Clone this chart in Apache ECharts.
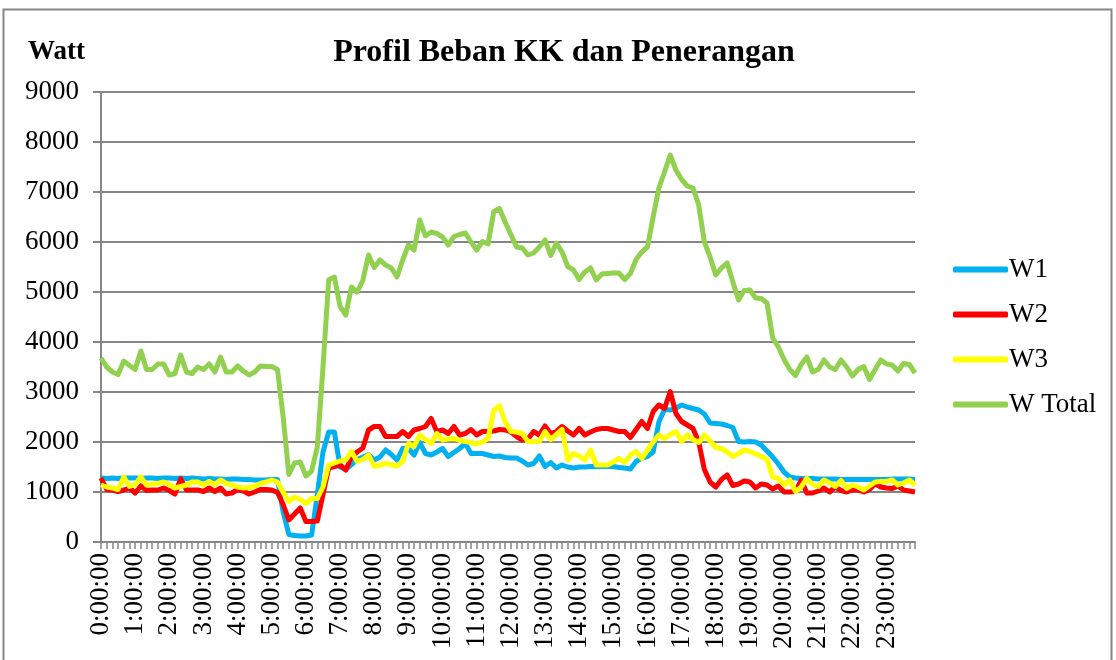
<!DOCTYPE html>
<html>
<head>
<meta charset="utf-8">
<script src="https://cdn.jsdelivr.net/npm/echarts@6/dist/echarts.min.js"></script>
<style>
  html, body { margin: 0; padding: 0; background: #fff; }
  #chart { width: 1116px; height: 660px; }
</style>
</head>
<body>
<div id="chart"></div>
<script>
// 10-minute readings over one day (144 points)
const times = [];
for (let m = 0; m < 24 * 60; m += 10) {
  const h = Math.floor(m / 60), mm = m % 60;
  times.push(h + ':' + (mm < 10 ? '0' : '') + mm + ':00');
}

const w1 = [
  1280,1270,1280,1270,1280,1280, 1280,1270,1280,1280,1270,1280,
  1280,1270,1280,1270,1280,1270, 1260,1270,1260,1260,1250,1260,
  1260,1250,1250,1240,1240,1240, 1250,1250,600,150,130,120,
  120,140,950,1800,2200,2200, 1500,1450,1550,1650,1700,1750,
  1640,1700,1840,1750,1640,1870, 1870,1740,1990,1770,1740,1800,
  1870,1710,1790,1870,1970,1770, 1770,1770,1740,1710,1720,1690,
  1680,1680,1620,1540,1570,1720, 1510,1590,1480,1540,1500,1480,
  1500,1500,1510,1510,1510,1510, 1510,1490,1480,1460,1610,1680,
  1710,1800,2400,2650,2640,2680, 2740,2700,2670,2640,2560,2380,
  2370,2360,2330,2290,2010,2000, 2010,2000,1940,1820,1700,1560,
  1400,1300,1280,1270,1270,1270, 1260,1260,1260,1260,1250,1250,
  1250,1250,1250,1250,1250,1250, 1250,1260,1260,1260,1260,1250
];
const w2 = [
  1280,1050,1040,1010,1040,1080, 980,1120,1030,1040,1040,1080,
  1030,960,1270,1040,1040,1040, 1010,1080,1010,1080,960,980,
  1050,1020,960,1000,1050,1050, 1040,990,750,440,560,680,
  410,410,420,950,1480,1510, 1540,1440,1700,1800,1880,2240,
  2310,2310,2110,2110,2110,2210, 2110,2240,2270,2310,2470,2210,
  2240,2170,2310,2140,2170,2250, 2140,2210,2210,2220,2250,2240,
  2200,2110,2040,2060,2210,2140, 2320,2170,2210,2310,2220,2140,
  2270,2140,2200,2250,2270,2270, 2240,2210,2210,2090,2250,2410,
  2270,2610,2740,2670,3010,2570, 2410,2340,2270,2000,1450,1200,
  1100,1250,1340,1130,1160,1220, 1200,1080,1160,1140,1060,1120,
  1000,1000,1010,1240,980,980, 1020,1080,1000,1100,1030,1000,
  1040,1040,1000,1050,1170,1100, 1080,1070,1120,1040,1020,1000
];
const w3 = [
  1140,1100,1080,1050,1300,1110, 1150,1300,1140,1160,1170,1200,
  1150,1080,1110,1140,1200,1200, 1140,1210,1150,1240,1170,1140,
  1100,1080,1090,1120,1170,1200, 1240,1200,1000,810,900,850,
  770,870,870,1100,1540,1580, 1620,1640,1810,1610,1650,1740,
  1510,1540,1570,1550,1520,1610, 1970,1910,2140,2050,1970,2170,
  2040,2060,2070,2030,2010,1990, 1960,2000,2070,2640,2720,2400,
  2210,2200,2170,2010,2010,2010, 2210,2050,2150,2250,1640,1770,
  1720,1640,1840,1540,1540,1540, 1600,1670,1590,1740,1810,1670,
  1840,2000,2140,2070,2150,2210, 2010,2140,2050,1990,2140,2020,
  1890,1870,1800,1710,1770,1840, 1810,1760,1710,1650,1300,1270,
  1140,1240,1010,1100,1270,1150, 1110,1240,1180,1110,1230,1070,
  1140,1100,1040,1120,1200,1210, 1210,1240,1140,1180,1240,1140
];
const wTotal = [
  3680,3500,3400,3350,3620,3530, 3450,3820,3450,3450,3560,3560,
  3340,3370,3740,3400,3370,3500, 3450,3560,3400,3700,3400,3400,
  3520,3420,3340,3400,3520,3510, 3510,3450,2500,1350,1580,1600,
  1320,1420,1900,3500,5240,5300, 4710,4540,5100,5000,5230,5740,
  5490,5640,5540,5480,5300,5640, 5940,5840,6440,6120,6200,6170,
  6100,5940,6110,6150,6180,6000, 5840,6010,5960,6610,6670,6400,
  6150,5900,5880,5740,5780,5900, 6040,5730,5980,5800,5510,5440,
  5250,5400,5480,5240,5360,5370, 5380,5380,5250,5370,5650,5800,
  5900,6500,7080,7400,7740,7440, 7250,7120,7080,6740,6000,5700,
  5340,5480,5580,5200,4840,5030, 5040,4880,4870,4780,4080,3900,
  3650,3450,3330,3550,3700,3400, 3450,3640,3500,3450,3640,3500,
  3320,3450,3510,3250,3450,3640, 3560,3540,3420,3570,3550,3380
];

const seriesNames = ['W1', 'W2', 'W3', 'W Total'];
const seriesColors = ['#00B0F0', '#FF0000', '#FFFF00', '#92D050'];
const seriesData = [w1, w2, w3, wTotal];

const font = "'Liberation Serif', 'Times New Roman', serif";
const gray = '#868686';

const chart = echarts.init(document.getElementById('chart'));

chart.setOption({
  animation: false,
  backgroundColor: '#fff',
  textStyle: { fontFamily: font, color: '#000' },
  graphic: [{
    type: 'rect',
    shape: { x: 3.5, y: 9.5, width: 1108, height: 700 },
    style: { fill: 'none', stroke: gray, lineWidth: 2 },
    silent: true
  }, {
    type: 'text',
    left: 28, top: 39,
    style: { text: 'Watt', font: "bold 27px " + font, fill: '#000' }
  }],
  title: {
    text: 'Profil Beban KK dan Penerangan',
    left: 559, top: 32,
    textAlign: 'center',
    textStyle: { fontFamily: font, fontSize: 32, fontWeight: 'bold', color: '#000' }
  },
  legend: {
    orient: 'vertical',
    left: 948, top: 251,
    icon: 'roundRect',
    itemWidth: 55, itemHeight: 6,
    itemGap: 18,
    textStyle: { fontFamily: font, fontSize: 27, color: '#000', padding: [0, 0, 0, -4] },
    data: seriesNames
  },
  grid: { left: 101, right: 201, top: 92, bottom: 118, containLabel: false },
  xAxis: {
    type: 'category',
    data: times,
    boundaryGap: false,
    axisLine: { lineStyle: { color: gray, width: 2 } },
    axisTick: { show: true, interval: 0, length: 7, lineStyle: { color: gray, width: 1.5 } },
    axisLabel: {
      interval: 5, rotate: 90, margin: 11,
      fontFamily: font, fontSize: 27, color: '#000'
    }
  },
  yAxis: {
    type: 'value',
    min: 0, max: 9000, interval: 1000,
    axisLine: { show: true, lineStyle: { color: gray, width: 2 } },
    axisTick: { show: true, length: 8, lineStyle: { color: gray, width: 2 } },
    axisLabel: {
      margin: 22, fontFamily: font, fontSize: 27, color: '#000',
      formatter: v => String(v)
    },
    splitLine: { lineStyle: { color: gray, width: 2 } }
  },
  series: seriesNames.map((name, k) => ({
    name: name,
    type: 'line',
    data: seriesData[k],
    showSymbol: false,
    symbol: 'none',
    color: seriesColors[k],
    lineStyle: { width: 5, color: seriesColors[k], join: 'round' }
  }))
});
</script>
</body>
</html>
